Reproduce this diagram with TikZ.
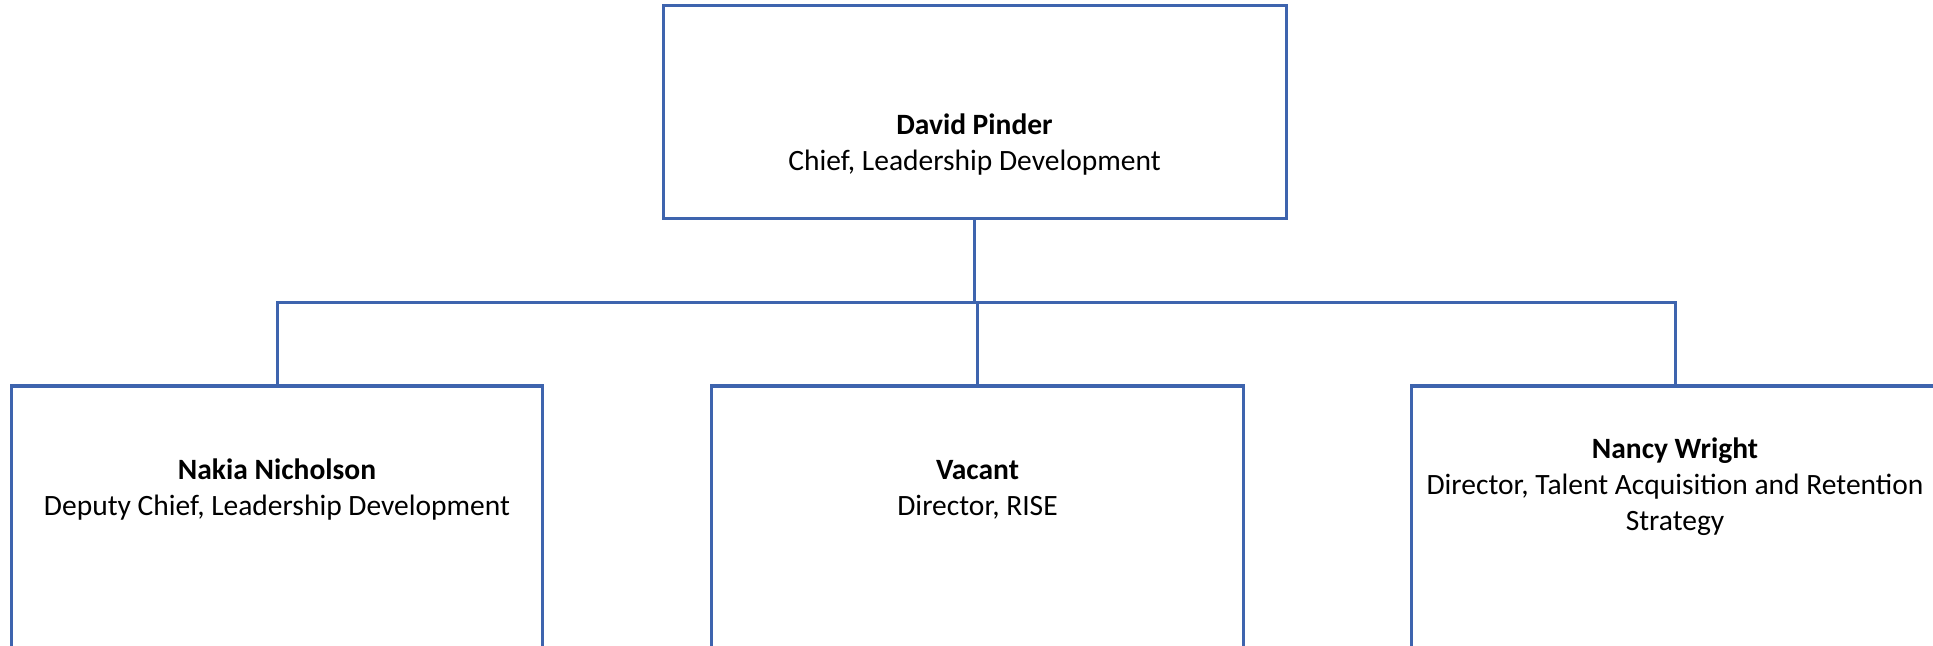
\documentclass[tikz,border=0pt]{standalone}
\usepackage{fontspec}
\setmainfont{Carlito}
\usepackage{xcolor}
\usepackage{tikz}
\usetikzlibrary{positioning,calc}
\definecolor{orgblue}{HTML}{3E64AE}
\tikzset{
  person/.style={draw=orgblue,line width=3bp,fill=white,
    inner sep=0pt,outer sep=0pt},
  post/.style={align=center,inner sep=0pt,
    font=\fontsize{29.5bp}{36bp}\selectfont},
  link/.style={draw=orgblue,line width=3bp}
}
\newcommand{\who}[2]{%
  % #1 the name (bold), #2 the post
  \textbf{#1}\\#2%
}

\begin{document}
\begin{tikzpicture}[x=1bp,y=-1bp]
  \useasboundingbox (0,0) rectangle (1933,646);
  % chief
  \node[person,minimum width=623bp,minimum height=212bp] (pinder) at (974.5,112) {};
  \node[post] (pinderText) at (974.5,145)
    {\who{David Pinder}{Chief, Leadership Development}};
  % the three reports
  \node[person,minimum width=530bp,minimum height=268bp] (nicholson) at (277,520) {};
  \node[post] (nicholsonText) at (277,490)
    {\who{Nakia Nicholson}{Deputy Chief, Leadership Development}};
  \node[person,minimum width=532bp,minimum height=268bp] (vacant) at (977.5,520) {};
  \node[post] (vacantText) at (977.5,490)
    {\who{Vacant}{Director, RISE}};
  \node[person,minimum width=528bp,minimum height=268bp] (wright) at (1675,520) {};
  \node[post] (wrightText) at (1675,487)
    {\who{Nancy Wright}{Director, Talent Acquisition and Retention\\Strategy}};
  % tree lines
  \coordinate (split) at (pinder.south |- 0,302);
  \draw[link] (pinder.south) -- (split);
  \draw[link] (nicholson.north) |- (split) -| (wright.north);
  \draw[link] (vacant.north) -- (vacant.north |- split);
\end{tikzpicture}
\end{document}
